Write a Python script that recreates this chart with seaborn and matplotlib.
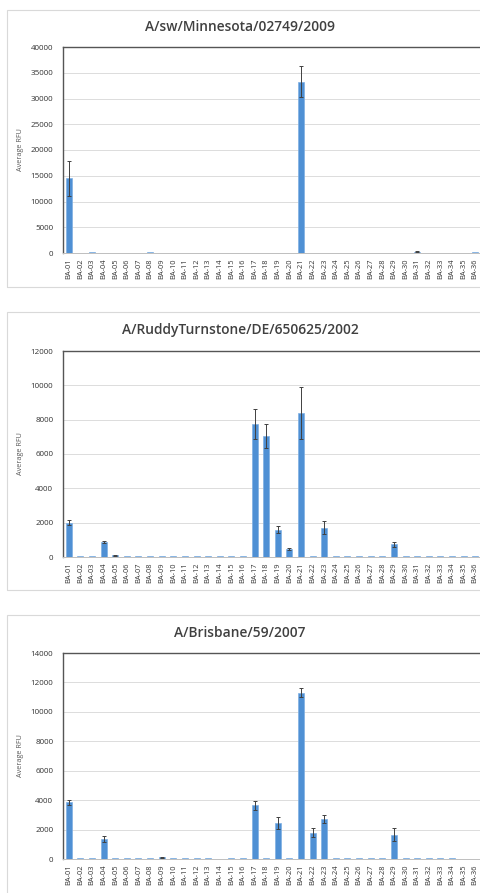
"""
plot.py
Three stacked bar panels of average RFU per BA clone, one panel per virus strain.
Saves out.png (480x893).
"""

import numpy as np
import pandas as pd
import seaborn as sns
import matplotlib
matplotlib.use("Agg")
import matplotlib.pyplot as plt
import matplotlib.patches as mpatches

# --------------------------------------------------------------------------- #
# Data
# --------------------------------------------------------------------------- #
CLONES = [f"BA-{i:02d}" for i in range(1, 37)]

TITLES = [
    "A/sw/Minnesota/02749/2009",
    "A/RuddyTurnstone/DE/650625/2002",
    "A/Brisbane/59/2007",
]

MINNESOTA_RFU = [
    14500, 80, 150, 80, 80, 80, 80, 180, 80, 80, 80, 80,
    0, 80, 80, 80, 80, 80, 0, 80, 33300, 80, 80, 0,
    80, 80, 80, 0, 80, 80, 250, 80, 80, 80, 80, 120,
]
MINNESOTA_ERR = [
    3400, 0, 0, 0, 0, 0, 0, 0, 0, 0, 0, 0,
    0, 0, 0, 0, 0, 0, 0, 0, 3000, 0, 0, 0,
    0, 0, 0, 0, 0, 0, 100, 0, 0, 0, 0, 0,
]

RUDDY_RFU = [
    2000, 50, 50, 880, 100, 50, 50, 50, 50, 50, 50, 50,
    50, 50, 80, 50, 7750, 7050, 1600, 450, 8400, 50, 1700, 50,
    50, 50, 50, 50, 730, 50, 50, 50, 50, 50, 50, 30,
]
RUDDY_ERR = [
    130, 0, 0, 80, 20, 0, 0, 0, 0, 0, 0, 0,
    0, 0, 0, 0, 850, 700, 200, 60, 1500, 0, 380, 0,
    0, 0, 0, 0, 120, 0, 0, 0, 0, 0, 0, 0,
]

BRISBANE_RFU = [
    3850, 50, 70, 1350, 50, 70, 50, 50, 120, 50, 50, 70,
    50, 30, 80, 50, 3650, 50, 2450, 50, 11300, 1800, 2700, 50,
    50, 50, 50, 50, 1650, 50, 50, 50, 50, 80, 30, 30,
]
BRISBANE_ERR = [
    170, 0, 0, 180, 0, 0, 0, 0, 30, 0, 0, 0,
    0, 0, 0, 0, 300, 0, 380, 0, 300, 330, 280, 0,
    0, 0, 0, 0, 430, 0, 0, 0, 0, 0, 0, 0,
]

Y_MAX = [40000, 12000, 14000]
Y_STEP = [5000, 2000, 2000]

# --------------------------------------------------------------------------- #
# Style
# --------------------------------------------------------------------------- #
sns.set_style("white")
plt.rcParams["font.family"] = ["Open Sans", "DejaVu Sans"]

BAR_COLOR = "#4f90d4"
ERR_COLOR = "#404040"
GRID_COLOR = "#dcdcdc"
SPINE_COLOR = "#555555"

W, H = 480, 893

# pixel layout of each panel: (border top, border bottom, axes top, axes bottom, title y)
PANELS = [
    (10, 287, 47, 253, 27),
    (312, 590, 351, 557, 330),
    (615, 900, 653, 859, 633),
]
AX_LEFT, AX_RIGHT = 63, 481


def fx(px):
    return px / W


def fy(py):
    return 1 - py / H


fig = plt.figure(figsize=(W / 100, H / 100), dpi=100)
fig.patch.set_facecolor("white")

series = [
    (MINNESOTA_RFU, MINNESOTA_ERR),
    (RUDDY_RFU, RUDDY_ERR),
    (BRISBANE_RFU, BRISBANE_ERR),
]

for i, ((vals, errs), title) in enumerate(zip(series, TITLES)):
    b_top, b_bot, a_top, a_bot, t_y = PANELS[i]

    # panel border
    fig.patches.append(
        mpatches.Rectangle(
            (fx(7), fy(b_bot)), fx(W + 20 - 7), fy(b_top) - fy(b_bot),
            transform=fig.transFigure, fill=False,
            edgecolor="#d9d9d9", linewidth=0.8, zorder=0,
        )
    )

    ax = fig.add_axes([fx(AX_LEFT), fy(a_bot), fx(AX_RIGHT - AX_LEFT), fy(a_top) - fy(a_bot)])
    df = pd.DataFrame({"clone": CLONES, "rfu": vals, "err": errs})

    sns.barplot(data=df, x="clone", y="rfu", color=BAR_COLOR, width=0.52,
                saturation=1, errorbar=None, ax=ax, zorder=3,
                edgecolor="#7fb0e3", linewidth=0.5)
    # precomputed standard errors
    mask = df["err"] > 0
    ax.errorbar(np.arange(len(df))[mask], df["rfu"][mask], yerr=df["err"][mask],
                fmt="none", ecolor=ERR_COLOR, elinewidth=0.7, capsize=1.6,
                capthick=0.7, zorder=4)

    ax.set_xlim(-0.5, len(CLONES) - 0.5)
    ax.set_ylim(0, Y_MAX[i])
    ax.set_yticks(np.arange(0, Y_MAX[i] + 1, Y_STEP[i]))
    ax.yaxis.grid(True, color=GRID_COLOR, linewidth=0.7, zorder=0)
    ax.set_axisbelow(True)

    ax.set_xlabel("")
    ax.set_ylabel("Average RFU", fontsize=5.2, color="#595959", labelpad=5)
    ax.tick_params(axis="y", length=0, labelsize=5.8, labelcolor="#333333", pad=7)
    ax.tick_params(axis="x", length=0, labelsize=5.4, labelcolor="#333333",
                   rotation=90, pad=4)

    for side in ["left", "top"]:
        ax.spines[side].set_color(SPINE_COLOR)
        ax.spines[side].set_linewidth(1.0)
    ax.spines["bottom"].set_color("#bfbfbf")
    ax.spines["bottom"].set_linewidth(0.7)
    ax.spines["right"].set_visible(False)

    fig.text(0.5, fy(t_y), title, ha="center", va="center",
             fontsize=9.9, fontweight="semibold", color="#404040")

fig.savefig("out.png", dpi=100, facecolor="white")
